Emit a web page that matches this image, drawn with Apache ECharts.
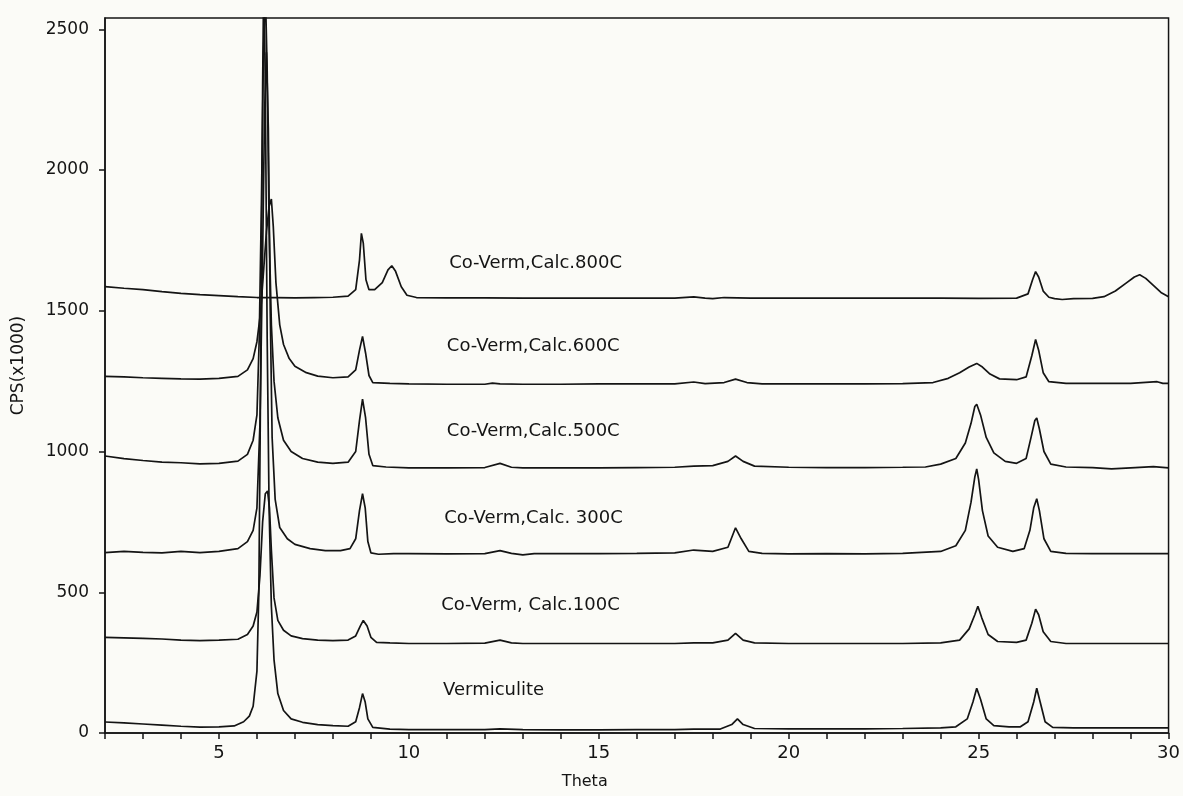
<!DOCTYPE html>
<html>
<head>
<meta charset="utf-8">
<title>XRD patterns of Co-vermiculite</title>
<script src="https://cdn.jsdelivr.net/npm/echarts@6/dist/echarts.min.js"></script>
<style>
  html, body { margin: 0; padding: 0; background: #fbfbf7; }
  #chart { width: 1183px; height: 796px; }
</style>
</head>
<body>
<div id="chart"></div>
<script>
// Diffractograms: [theta, CPS] pairs, one array per sample (traces are stacked by offset)
const vermiculite = [
  [2.0,39],[2.5,36],[3.0,32],[3.5,28],[4.0,24],[4.5,21],[5.0,22],[5.4,25],[5.65,40],[5.8,60],[5.9,95],
  [6.0,220],[6.05,500],[6.1,1300],[6.15,2300],[6.18,2700],[6.22,2300],[6.27,1400],[6.32,800],[6.38,450],
  [6.45,260],[6.55,140],[6.7,80],[6.9,50],[7.2,38],[7.6,30],[8.0,26],[8.4,24],[8.6,40],[8.7,90],[8.78,140],
  [8.85,110],[8.92,50],[9.05,20],[9.5,14],[10,12],[11,12],[12,12],[12.4,15],[13,12],[14,11],[15,11],[16,12],
  [17,12],[17.5,14],[18.2,14],[18.5,30],[18.65,50],[18.8,30],[19.1,16],[20,15],[21,15],[22,15],[23,16],
  [24,18],[24.4,22],[24.7,50],[24.85,110],[24.95,159],[25.05,120],[25.2,50],[25.4,26],[25.8,22],[26.1,22],
  [26.3,40],[26.45,110],[26.53,159],[26.62,110],[26.75,40],[26.95,20],[27.5,18],[28,18],[29,18],[30,18]
];
const calc100 = [
  [2.0,340],[2.5,338],[3.0,336],[3.5,334],[4.0,330],[4.5,328],[5.0,330],[5.5,333],[5.75,350],[5.9,380],
  [6.0,430],[6.08,560],[6.15,750],[6.22,850],[6.28,860],[6.33,800],[6.38,650],[6.45,480],[6.55,400],[6.7,365],
  [6.9,345],[7.2,335],[7.6,330],[8.0,328],[8.4,330],[8.6,345],[8.72,380],[8.8,400],[8.9,380],[9.0,340],
  [9.15,322],[9.5,320],[10,318],[11,318],[12,319],[12.4,330],[12.7,320],[13,318],[14,318],[15,318],[16,318],
  [17,318],[17.5,320],[18,320],[18.4,330],[18.6,354],[18.8,330],[19.1,320],[20,318],[21,318],[22,318],[23,318],
  [24,320],[24.5,330],[24.75,370],[24.9,420],[24.98,450],[25.08,410],[25.25,350],[25.5,325],[26.0,322],
  [26.25,330],[26.4,390],[26.5,440],[26.58,420],[26.7,360],[26.9,325],[27.3,318],[28,318],[29,318],[30,318]
];
const calc300 = [
  [2.0,641],[2.5,645],[3.0,642],[3.5,640],[4.0,645],[4.5,641],[5.0,645],[5.5,655],[5.75,680],[5.9,720],
  [6.0,800],[6.08,1100],[6.15,1700],[6.2,2200],[6.25,2418],[6.3,2150],[6.35,1500],[6.4,1050],[6.48,830],
  [6.6,730],[6.8,690],[7.0,670],[7.4,655],[7.8,648],[8.2,648],[8.45,655],[8.6,690],[8.7,790],[8.78,850],
  [8.85,800],[8.92,680],[9.0,640],[9.2,635],[9.6,637],[10,637],[11,636],[12,637],[12.4,648],[12.7,638],
  [13,633],[13.3,637],[14,637],[15,637],[16,638],[17,640],[17.5,650],[18,645],[18.4,660],[18.6,729],
  [18.75,690],[18.95,645],[19.3,638],[20,636],[21,637],[22,636],[23,638],[24,645],[24.4,665],[24.65,720],
  [24.8,820],[24.9,910],[24.95,938],[25.0,900],[25.1,790],[25.25,700],[25.5,660],[25.9,645],[26.2,655],
  [26.35,720],[26.45,800],[26.53,832],[26.6,790],[26.72,690],[26.9,645],[27.3,638],[28,637],[29,637],[30,637]
];
const calc500 = [
  [2.0,984],[2.5,975],[3.0,968],[3.5,962],[4.0,960],[4.5,956],[5.0,958],[5.5,966],[5.75,990],[5.9,1040],
  [6.0,1130],[6.06,1400],[6.12,1900],[6.17,2400],[6.22,2650],[6.27,2350],[6.32,1800],[6.38,1450],[6.45,1250],
  [6.55,1120],[6.7,1040],[6.9,1000],[7.2,975],[7.6,962],[8.0,958],[8.4,962],[8.6,1000],[8.7,1110],[8.78,1186],
  [8.86,1120],[8.95,990],[9.05,950],[9.4,945],[10,942],[11,942],[12,943],[12.4,958],[12.7,944],[13,942],
  [14,942],[15,942],[16,943],[17,944],[17.5,948],[18,950],[18.4,965],[18.6,984],[18.8,965],[19.1,948],
  [20,944],[21,943],[22,943],[23,944],[23.6,945],[24.0,955],[24.4,975],[24.65,1030],[24.8,1100],[24.9,1160],
  [24.95,1168],[25.05,1130],[25.2,1050],[25.4,995],[25.7,965],[26.0,958],[26.25,975],[26.38,1050],
  [26.48,1110],[26.53,1119],[26.6,1080],[26.72,1000],[26.9,955],[27.3,945],[28,943],[28.5,938],[29,942],
  [29.6,946],[30,942]
];
const calc600 = [
  [2.0,1267],[2.5,1265],[3.0,1262],[3.5,1260],[4.0,1258],[4.5,1257],[5.0,1260],[5.5,1267],[5.75,1290],
  [5.9,1330],[6.0,1390],[6.1,1500],[6.18,1650],[6.25,1780],[6.32,1870],[6.38,1897],[6.43,1800],[6.5,1600],
  [6.6,1450],[6.7,1380],[6.85,1330],[7.0,1303],[7.3,1280],[7.6,1268],[8.0,1262],[8.4,1265],[8.6,1290],
  [8.7,1360],[8.78,1409],[8.86,1350],[8.95,1270],[9.05,1245],[9.5,1242],[10,1240],[11,1239],[12,1239],
  [12.2,1243],[12.4,1240],[13,1239],[14,1239],[15,1240],[16,1240],[17,1240],[17.5,1247],[17.8,1241],
  [18.3,1245],[18.6,1257],[18.9,1245],[19.3,1240],[20,1240],[21,1240],[22,1240],[23,1241],[23.8,1245],
  [24.2,1260],[24.5,1280],[24.75,1300],[24.95,1313],[25.1,1300],[25.3,1275],[25.55,1258],[26.0,1255],
  [26.25,1265],[26.4,1340],[26.5,1398],[26.58,1360],[26.7,1280],[26.85,1248],[27.3,1242],[28,1242],
  [29,1242],[29.7,1248],[29.85,1242],[30,1242]
];
const calc800 = [
  [2.0,1586],[2.5,1580],[3.0,1575],[3.5,1568],[4.0,1562],[4.5,1557],[5.0,1554],[5.5,1550],[6.0,1547],
  [6.5,1547],[7.0,1546],[7.5,1547],[8.0,1548],[8.4,1552],[8.6,1575],[8.7,1680],[8.75,1775],[8.8,1740],
  [8.87,1610],[8.95,1575],[9.1,1575],[9.3,1600],[9.45,1645],[9.55,1660],[9.65,1640],[9.8,1585],[9.95,1555],
  [10.2,1547],[11,1546],[12,1546],[13,1545],[14,1545],[15,1545],[16,1545],[17,1545],[17.5,1549],[17.8,1545],
  [18,1543],[18.3,1547],[19,1545],[20,1545],[21,1545],[22,1545],[23,1545],[24,1545],[25,1544],[26.0,1545],
  [26.3,1560],[26.42,1610],[26.5,1639],[26.58,1620],[26.7,1570],[26.85,1548],[27.0,1543],[27.2,1540],
  [27.5,1543],[28,1544],[28.3,1550],[28.6,1570],[28.9,1600],[29.1,1620],[29.24,1628],[29.4,1615],
  [29.6,1590],[29.8,1565],[30,1550]
];

// Sample names and the [theta, CPS] anchor where each name is written
const sampleNames = ['Vermiculite', 'Co-Verm, Calc.100C', 'Co-Verm,Calc. 300C',
                     'Co-Verm,Calc.500C', 'Co-Verm,Calc.600C', 'Co-Verm,Calc.800C'];
const nameAnchors = [[10.9,152],[10.85,453],[10.93,761],[11.0,1073],[11.0,1373],[11.06,1667]];

// Axis ticks
const yTicks = [0, 500, 1000, 1500, 2000, 2500];
const xLabelTicks = [5, 10, 15, 20, 25, 30];

const ink = '#141414';
const font = 'DejaVu Sans';

const traces = [vermiculite, calc100, calc300, calc500, calc600, calc800];

const lineSeries = traces.map((d, i) => ({
  name: sampleNames[i],
  type: 'line',
  data: d,
  showSymbol: false,
  symbol: 'none',
  clip: true,
  lineStyle: { color: ink, width: 1.7 },
  z: 3
}));

const nameSeries = {
  type: 'scatter',
  symbolSize: 0,
  silent: true,
  itemStyle: { opacity: 1 },
  data: nameAnchors.map((p, i) => ({ value: p, name: sampleNames[i] })),
  label: {
    show: true,
    position: 'right',
    distance: 0,
    opacity: 1,
    formatter: p => p.name,
    color: ink,
    fontFamily: font,
    fontSize: 18
  },
  z: 4
};

const chart = echarts.init(document.getElementById('chart'), null, { renderer: 'canvas' });
chart.setOption({
  animation: false,
  backgroundColor: '#fbfbf7',
  grid: {
    left: 105, right: 14, top: 18, bottom: 63,
    show: true, borderColor: ink, borderWidth: 1.5, backgroundColor: 'transparent'
  },
  xAxis: {
    type: 'value',
    min: 2, max: 30, interval: 1,
    name: 'Theta',
    nameLocation: 'middle',
    nameGap: 41,
    nameTextStyle: { color: ink, fontFamily: font, fontSize: 16, padding: [0, 104, 0, 0] },
    axisLine: { show: true, lineStyle: { color: ink, width: 1.5 } },
    axisTick: { show: true, inside: false, length: 6, lineStyle: { color: ink, width: 1.5 } },
    axisLabel: {
      color: ink, fontFamily: font, fontSize: 18, margin: 11,
      formatter: v => (xLabelTicks.indexOf(v) >= 0 ? String(v) : '')
    },
    splitLine: { show: false }
  },
  yAxis: {
    type: 'value',
    min: 0, max: 2540, interval: 500,
    name: 'CPS(x1000)',
    nameLocation: 'middle',
    nameGap: 78,
    nameTextStyle: { color: ink, fontFamily: font, fontSize: 17, padding: [0, 0, 0, 20] },
    axisLine: { show: true, lineStyle: { color: ink, width: 1.5 } },
    axisTick: { show: true, inside: false, length: 6, customValues: yTicks, lineStyle: { color: ink, width: 1.5 } },
    axisLabel: {
      color: ink, fontFamily: font, fontSize: 17, margin: 16,
      customValues: yTicks,
      formatter: v => (yTicks.indexOf(v) >= 0 ? String(v) : '')
    },
    splitLine: { show: false }
  },
  series: [...lineSeries, nameSeries]
});
</script>
</body>
</html>
